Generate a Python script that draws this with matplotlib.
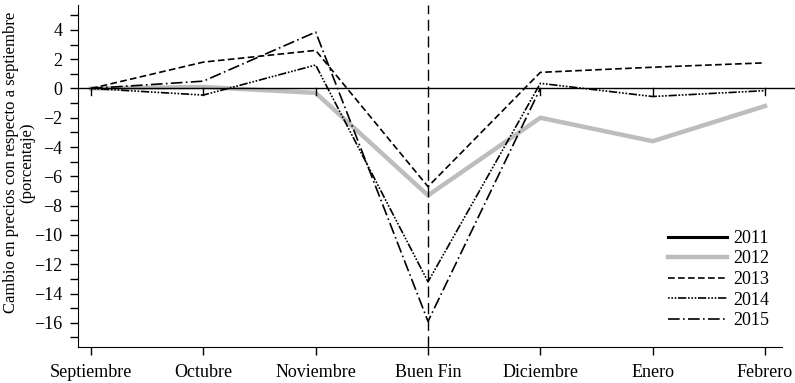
import numpy as np
import matplotlib
matplotlib.use("Agg")
from matplotlib import pyplot as plt
from matplotlib.lines import Line2D
from matplotlib.ticker import MultipleLocator

# data (percent change vs. September)
meses = ["Septiembre", "Octubre", "Noviembre", "Buen Fin", "Diciembre", "Enero", "Febrero"]
y2011 = [0.0, np.nan, np.nan, np.nan, np.nan, np.nan, np.nan]
y2012 = [0.0, 0.1, -0.3, -7.3, -2.0, -3.6, -1.2]
y2013 = [0.0, 1.8, 2.6, -6.7, 1.1, 1.45, 1.75]
y2014 = [0.0, -0.45, 1.6, -13.2, 0.35, -0.55, -0.15]
y2015 = [0.0, 0.5, 3.85, -15.9, 0.0, np.nan, np.nan]

plt.rcParams['font.family'] = ['Liberation Serif', 'DejaVu Serif']

fig = plt.figure(figsize=(7.95, 3.83), dpi=100)
ax = fig.add_axes([0.0975, 0.094, 0.886, 0.893])
x = np.arange(len(meses))

ax.plot(x, y2011, color='black', lw=2.2, label='2011')
ax.plot(x, y2012, color='#bdbdbd', lw=3.2, label='2012')
ax.plot(x, y2013, color='black', lw=1.2, ls=(0, (4, 2)), label='2013')
ax.plot(x, y2014, color='black', lw=1.2, ls=(0, (1, 1, 1, 1, 1, 1, 5, 1)), label='2014')
ax.plot(x, y2015, color='black', lw=1.2, ls=(0, (7, 2, 1, 2)), label='2015')

# zero line and Buen Fin marker
ax.add_line(Line2D([0, 1.02], [0, 0], transform=ax.get_yaxis_transform(),
                   color='black', lw=1.0, clip_on=False))
ax.axvline(3, color='black', lw=1.0, ls=(0, (8, 4)))
for i in x:
    if i != 3:
        ax.plot([i, i], [0, -0.45], color='black', lw=1.0)

ax.set_xlim(-0.12, 6.15)
ax.set_ylim(-17.65, 5.7)
ax.set_xticks(x)
ax.set_xticklabels(meses)
ax.yaxis.set_major_locator(MultipleLocator(2))
ax.yaxis.set_minor_locator(MultipleLocator(1))
ax.tick_params(axis='both', which='both', direction='out', length=6, width=1, labelsize=13)
ax.tick_params(axis='y', which='major', pad=5)
ax.tick_params(axis='x', pad=6)
for s in ['top', 'right']:
    ax.spines[s].set_visible(False)

fig.text(19 / 795, 0.575, "Cambio en precios con respecto a septiembre\n(porcentaje)",
         rotation=90, ha='center', va='center', fontsize=12, linespacing=1.05)

ax.legend(loc='upper left', bbox_to_anchor=(0.815, 0.39), frameon=False, fontsize=13,
          handlelength=3.3, labelspacing=0.2, handletextpad=0.3)

fig.savefig("out.png", dpi=100)
